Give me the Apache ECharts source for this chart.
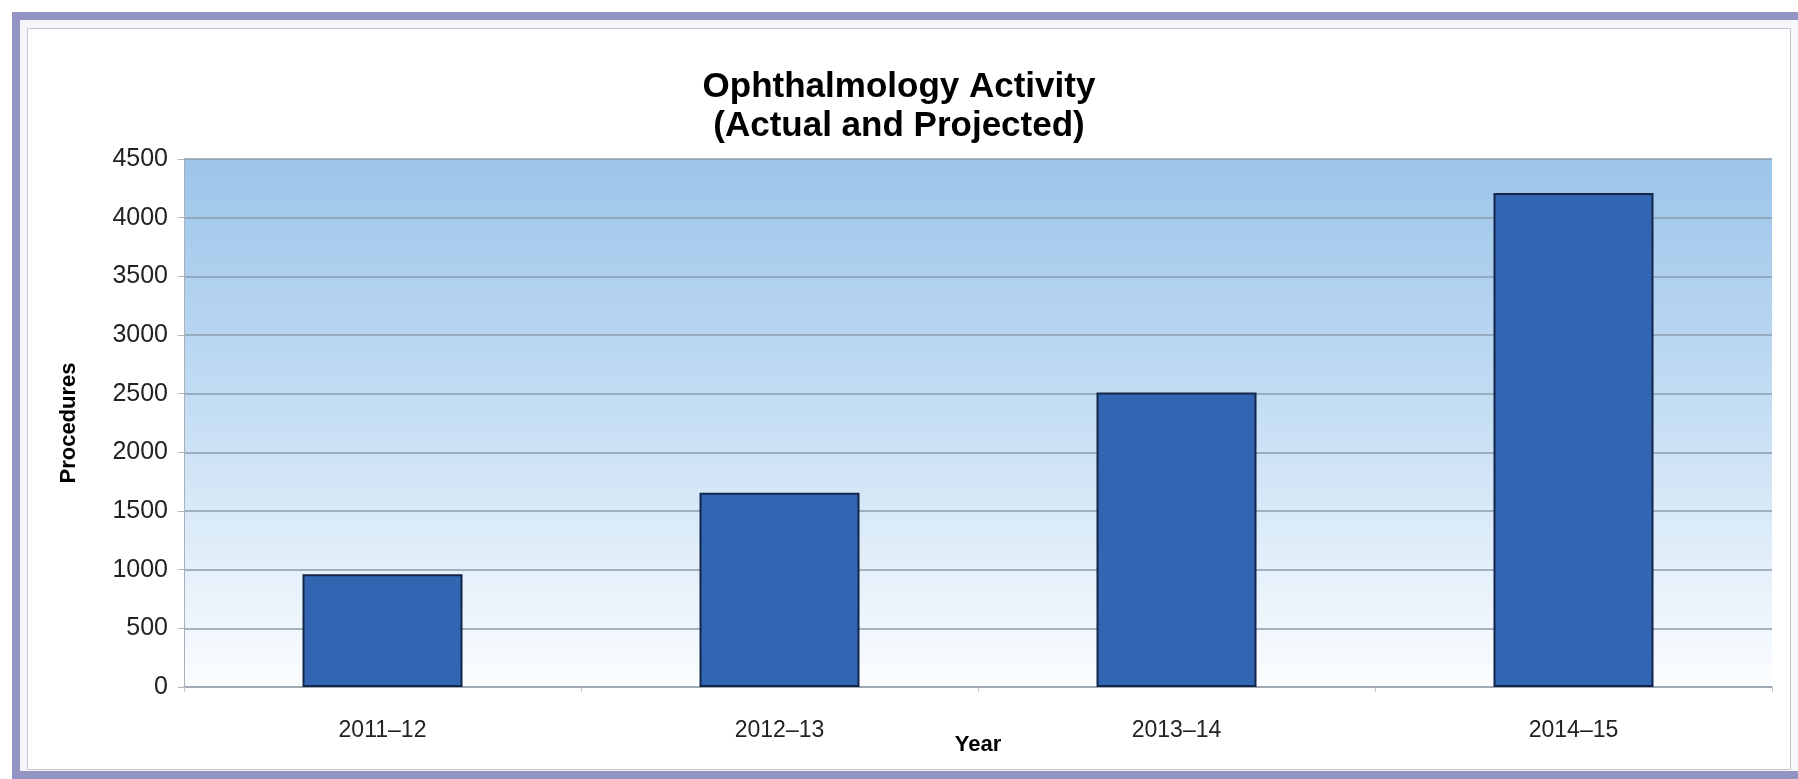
<!DOCTYPE html>
<html>
<head>
<meta charset="utf-8">
<script src="https://cdn.jsdelivr.net/npm/echarts@6/dist/echarts.min.js"></script>
<style>
html,body{margin:0;padding:0;background:#fff;}
#chart{width:1798px;height:779px;}
</style>
</head>
<body>
<div id="chart"></div>
<script>
const titleLines = ['Ophthalmology Activity', '(Actual and Projected)'];
const categories = ['2011–12', '2012–13', '2013–14', '2014–15'];
const procedures = [960, 1655, 2510, 4210];
const yAxisName = 'Procedures';
const xAxisName = 'Year';
const yMin = 0, yMax = 4500, yStep = 500;

const chart = echarts.init(document.getElementById('chart'), null, {renderer: 'canvas'});
chart.setOption({
  backgroundColor: '#ffffff',
  animation: false,
  graphic: [
    {type: 'rect', z: -10, shape: {x: 16, y: 16, width: 1800, height: 759},
     style: {fill: '#f6f7fc', stroke: '#9393c4', lineWidth: 8}},
    {type: 'rect', z: -9, shape: {x: 27.5, y: 28.5, width: 1763, height: 741},
     style: {fill: '#ffffff', stroke: '#c4c6cc', lineWidth: 1}}
  ],
  title: {
    text: titleLines.join('\n'),
    left: 'center',
    top: 63,
    textStyle: {fontFamily: 'Liberation Sans', fontWeight: 'bold', fontSize: 35, lineHeight: 39, color: '#000'}
  },
  grid: {
    left: 184, right: 26, top: 159, bottom: 92,
    show: true,
    borderWidth: 0,
    backgroundColor: {
      type: 'linear', x: 0, y: 0, x2: 0, y2: 1,
      colorStops: [
        {offset: 0, color: '#9cc5ea'},
        {offset: 0.45, color: '#c2dcf3'},
        {offset: 1, color: '#fbfdff'}
      ]
    }
  },
  xAxis: {
    type: 'category',
    data: categories,
    name: xAxisName,
    nameLocation: 'middle',
    nameGap: 47,
    nameMoveOverlap: false,
    nameTextStyle: {fontFamily: 'Liberation Sans', fontWeight: 'bold', fontSize: 22, color: '#000'},
    axisLine: {lineStyle: {color: '#9ea6b0', width: 1.5}},
    axisTick: {show: true, length: 5, lineStyle: {color: '#c0c6cc'}},
    axisLabel: {margin: 32, fontFamily: 'Liberation Sans', fontSize: 23, color: '#222'}
  },
  yAxis: {
    type: 'value',
    min: yMin, max: yMax, interval: yStep,
    name: yAxisName,
    nameLocation: 'middle',
    nameGap: 104,
    nameRotate: 90,
    nameMoveOverlap: false,
    nameTextStyle: {fontFamily: 'Liberation Sans', fontWeight: 'bold', fontSize: 22, color: '#000'},
    axisLine: {show: true, lineStyle: {color: '#a8b0b8', width: 1}},
    axisTick: {show: true, length: 6, lineStyle: {color: '#b0b6bc'}},
    axisLabel: {margin: 16, fontFamily: 'Liberation Sans', fontSize: 25, color: '#222',
      formatter: function (v) { return String(v); }},
    splitLine: {show: true, lineStyle: {color: '#8a9cae', width: 1.5}}
  },
  series: [{
    type: 'bar',
    data: procedures,
    barWidth: 160,
    itemStyle: {color: '#3366b2', borderColor: '#14254a', borderWidth: 2}
  }]
});
</script>
</body>
</html>
